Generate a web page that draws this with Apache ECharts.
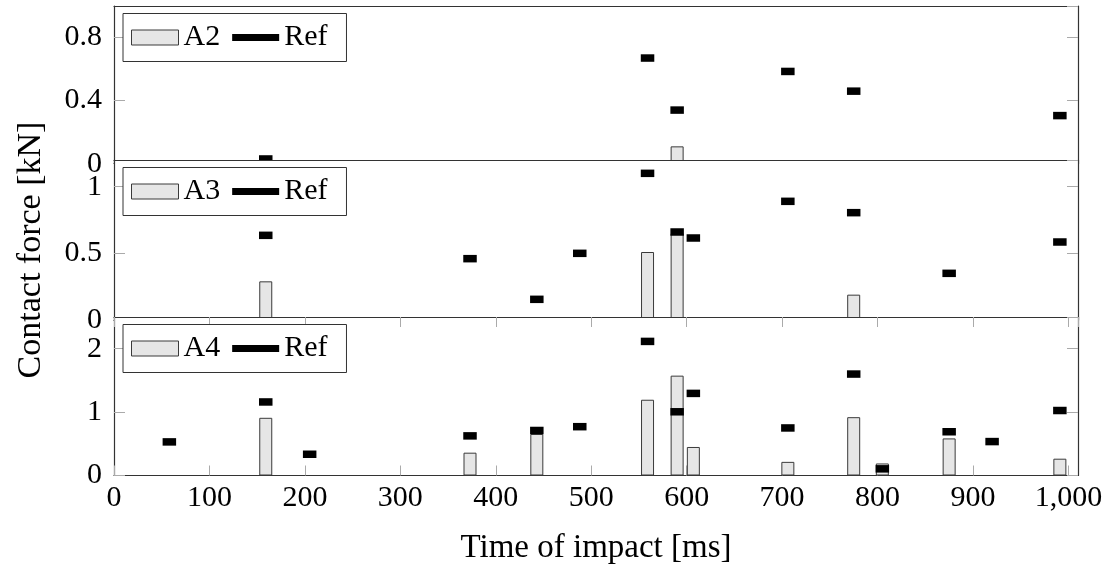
<!DOCTYPE html>
<html>
<head>
<meta charset="utf-8">
<title>Contact force vs time of impact</title>
<script src="https://cdn.jsdelivr.net/npm/echarts@6/dist/echarts.min.js"></script>
<style>
  html, body { margin: 0; padding: 0; background: #fff; }
  #chart { width: 1112px; height: 569px; }
</style>
</head>
<body>
<div id="chart"></div>
<script>
// Impact times [ms] shared by all panels
const times = [58, 159, 205, 373, 443, 488, 559, 590, 607, 706, 775, 805, 875, 920, 991];

// Measured contact force per sensor [kN] (null = no impact recorded)
const a2Values  = [null, null, null, null, null, null, null, 0.11, null, null, null, null, null, null, null];
const a2Ref     = [null, 0.03, null, null, null, null, 0.67, 0.34, null, 0.585, 0.46, null, null, null, 0.305];

const a3Values  = [null, 0.29, null, null, null, null, 0.51, 0.65, null, null, 0.19, null, null, null, null];
const a3Ref     = [null, 0.635, null, 0.46, 0.155, 0.50, 1.10, 0.66, 0.615, 0.89, 0.805, null, 0.35, null, 0.585];

const a4Values  = [null, 0.91, null, 0.36, 0.655, null, 1.195, 1.575, 0.45, 0.215, 0.92, 0.19, 0.585, null, 0.265];
const a4Ref     = [0.53, 1.16, 0.335, 0.625, 0.71, 0.77, 2.115, 1.005, 1.295, 0.75, 1.60, 0.105, 0.69, 0.535, 1.025];

// Panel names and y-axis ranges
const panelNames = ['A2', 'A3', 'A4'];
const yMax       = [1.0, 1.2, 2.5];
const yInterval  = [0.4, 0.5, 1];

const xTitle = 'Time of impact [ms]';
const yTitle = 'Contact force [kN]';

const FONT = '"Liberation Serif", "Times New Roman", serif';
const AXIS_COLOR = '#333';
const TICK_COLOR = '#aaa';

function pairs(vals) {
  const out = [];
  vals.forEach((v, i) => { if (v !== null) out.push([times[i], v]); });
  return out;
}

const panelBars = [a2Values, a3Values, a4Values];
const panelRefs = [a2Ref, a3Ref, a4Ref];

// Layout of the three stacked panels (later panels sit on top of earlier ones)
const gridLayout = [
  { top: 6,   height: 157.7 },
  { top: 160, height: 160 },
  { top: 317, height: 158.5 }
];

const grids = [], xAxes = [], yAxes = [], series = [], legends = [];

gridLayout.forEach((g, p) => {
  const zBase = p * 10;
  const isLast = p === gridLayout.length - 1;
  grids.push({
    left: 114, width: 964, top: g.top, height: g.height,
    show: true, backgroundColor: '#fff', borderWidth: 0, z: zBase
  });

  const xCommon = {
    type: 'value', gridIndex: p, min: 0, max: 1010, interval: 100,
    splitLine: { show: false }, z: zBase + 1,
    axisLine: { show: true, onZero: false, lineStyle: { color: AXIS_COLOR, width: 1.2 } }
  };
  // bottom x axis
  xAxes.push(Object.assign({}, xCommon, {
    position: 'bottom',
    axisTick: { show: isLast, inside: true, length: 10, lineStyle: { color: TICK_COLOR, width: 1 } },
    axisLabel: {
      show: isLast, margin: 8, fontFamily: FONT, fontSize: 30, color: '#000',
      showMaxLabel: false,
      formatter: v => (v % 100 === 0 ? v.toLocaleString('en-US') : '')
    },
    name: isLast ? xTitle : '', nameLocation: 'middle', nameGap: 56,
    nameTextStyle: { fontFamily: FONT, fontSize: 33, color: '#000' }
  }));
  // top x axis (frame line, ticks on the lowest panel only)
  xAxes.push(Object.assign({}, xCommon, {
    position: 'top',
    axisTick: { show: isLast, inside: true, length: 10, lineStyle: { color: TICK_COLOR, width: 1 } },
    axisLabel: { show: false }
  }));

  const yCommon = {
    type: 'value', gridIndex: p, min: 0, max: yMax[p], interval: yInterval[p],
    splitLine: { show: false }, z: zBase + 1,
    axisLine: { show: true, onZero: false, lineStyle: { color: AXIS_COLOR, width: 1.2 } },
    axisTick: { show: true, inside: true, length: 11, lineStyle: { color: TICK_COLOR, width: 1 } }
  };
  yAxes.push(Object.assign({}, yCommon, {
    position: 'left',
    axisLabel: { margin: 12, fontFamily: FONT, fontSize: 30, color: '#000', showMaxLabel: false }
  }));
  yAxes.push(Object.assign({}, yCommon, {
    position: 'right',
    axisLabel: { show: false }
  }));

  series.push({
    name: panelNames[p], type: 'bar',
    xAxisIndex: p * 2, yAxisIndex: p * 2,
    data: pairs(panelBars[p]),
    barWidth: 13,
    itemStyle: { color: '#e6e6e6', borderColor: '#3a3a3a', borderWidth: 1 },
    z: zBase + 2
  });
  series.push({
    name: 'Ref', type: 'scatter',
    xAxisIndex: p * 2, yAxisIndex: p * 2,
    data: pairs(panelRefs[p]),
    symbol: 'rect', symbolSize: [13.5, 7.5],
    itemStyle: { color: '#000', opacity: 1 },
    z: zBase + 3
  });

  legends.push({
    left: 123, top: g.top + 7.5,
    orient: 'horizontal',
    selectedMode: false,
    data: [
      { name: panelNames[p], icon: 'rect' },
      { name: 'Ref', icon: 'path://M0,0H46V7H0Z' }
    ],
    itemWidth: 47, itemHeight: 15, itemGap: 12,
    symbolKeepAspect: true,
    itemStyle: { borderWidth: 1, opacity: 1 },
    textStyle: { fontFamily: FONT, fontSize: 30, color: '#000', lineHeight: 36 },
    padding: [6, 19, 6, 8],
    backgroundColor: '#fff', borderColor: AXIS_COLOR, borderWidth: 1,
    z: zBase + 5
  });
});

const chart = echarts.init(document.getElementById('chart'), null, { renderer: 'canvas' });
chart.setOption({
  animation: false,
  backgroundColor: '#fff',
  grid: grids,
  xAxis: xAxes,
  yAxis: yAxes,
  legend: legends,
  series: series,
  graphic: [{
    type: 'text',
    x: 31, y: 250,
    rotation: Math.PI / 2,
    style: {
      text: yTitle, fontFamily: FONT, fontSize: 34, fill: '#000',
      align: 'center', verticalAlign: 'middle'
    },
    z: 100
  }]
});
</script>
</body>
</html>
